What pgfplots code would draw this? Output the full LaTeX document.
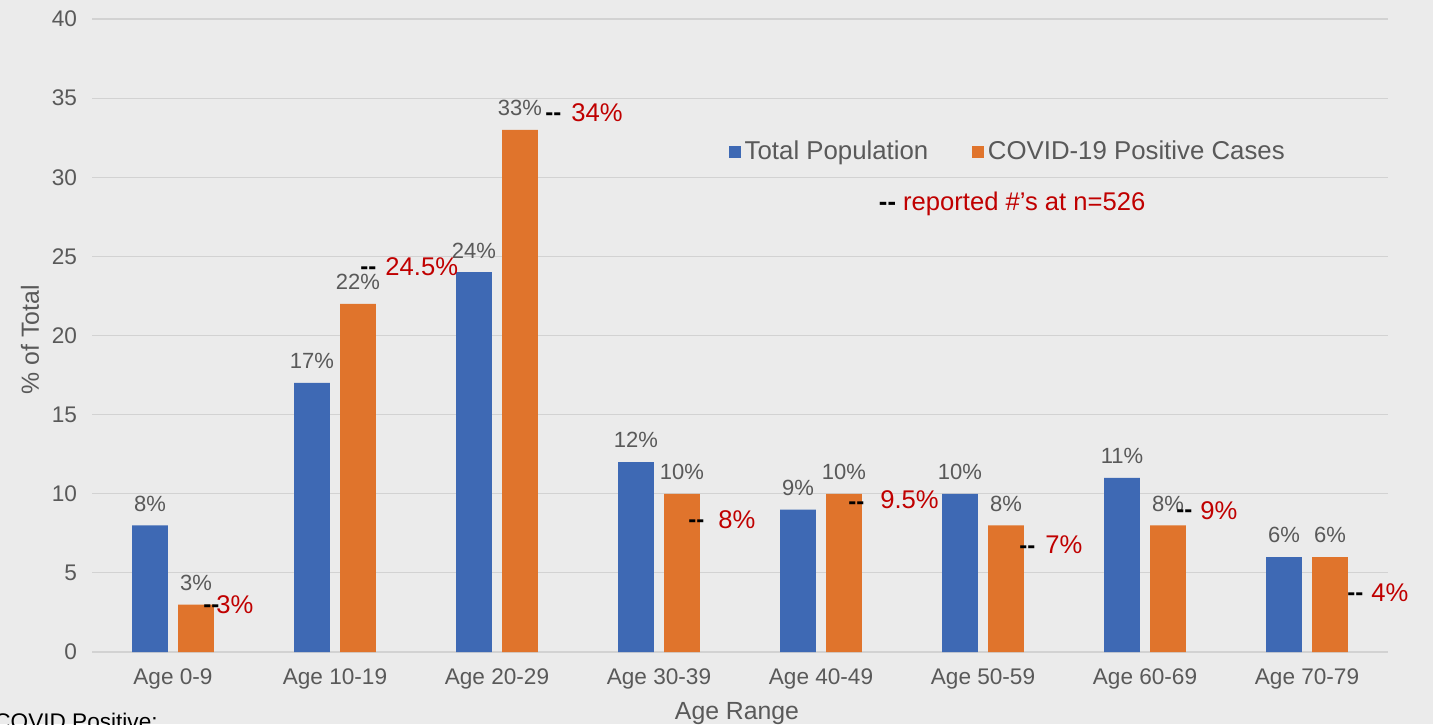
\documentclass[border=0pt]{standalone}
\usepackage{pgfplots}
\pgfplotsset{compat=1.18}
\usepackage{fontspec}
\setmainfont{Liberation Sans}
\definecolor{bg}{HTML}{EBEBEB}
\definecolor{gridc}{HTML}{D2D2D2}
\definecolor{tp}{HTML}{3E69B4}
\definecolor{cv}{HTML}{E0742C}
\definecolor{txt}{HTML}{595959}
\definecolor{rd}{HTML}{C00000}
\begin{document}
\begin{tikzpicture}
\clip (-46pt,-36pt) rectangle (670.5pt,326pt);
\fill[bg] (-46pt,-36pt) rectangle (670.5pt,326pt);
\begin{axis}[
  at={(0pt,0pt)}, anchor=south west,
  scale only axis, width=648pt, height=316.5pt,
  xmin=-0.5, xmax=7.5, ymin=0, ymax=40,
  ytick={0,5,...,40},
  xtick={0,...,7},
  xticklabels={Age 0-9,Age 10-19,Age 20-29,Age 30-39,Age 40-49,Age 50-59,Age 60-69,Age 70-79},
  ymajorgrids, grid style={gridc, line width=0.6pt},
  axis line style={draw=none},
  major tick style={draw=none},
  /pgf/number format/assume math mode=true,
  tick label style={font=\fontsize{11.3}{13}\selectfont, text=txt},
  xticklabel style={yshift=-5pt},
  yticklabel style={xshift=-4pt},
  xlabel={Age Range}, ylabel={\% of Total},
  label style={font=\fontsize{12.4}{14}\selectfont, text=txt},
  xlabel style={at={(axis description cs:0.4977,-0.0975)}, anchor=center},
  ylabel style={at={(axis description cs:-0.0478,0.493)}, anchor=center, rotate=0},
  legend style={at={(axis cs:5.16,31.6)}, anchor=center, draw=none, fill=none,
    legend columns=2, font=\fontsize{12.9}{15}\selectfont, text=txt,
    /tikz/every even column/.append style={column sep=20pt}},
  legend image code/.code={\fill[#1] (0pt,-2.9pt) rectangle (5.8pt,2.9pt);},
]
\addplot[ybar, bar width=0.22, bar shift=0pt, fill=tp, draw=none,
  nodes near coords={\pgfmathprintnumber{\pgfplotspointmeta}\%},
  every node near coord/.append style={anchor=south, yshift=3.5pt, font=\fontsize{11}{13}\selectfont, text=txt}]
  coordinates {(-0.142,8) (0.858,17) (1.858,24) (2.858,12) (3.858,9) (4.858,10) (5.858,11) (6.858,6)};
\addlegendentry{Total Population}
\addplot[ybar, bar width=0.22, bar shift=0pt, fill=cv, draw=none,
  nodes near coords={\pgfmathprintnumber{\pgfplotspointmeta}\%},
  every node near coord/.append style={anchor=south, yshift=3.5pt, font=\fontsize{11}{13}\selectfont, text=txt}]
  coordinates {(0.142,3) (1.142,22) (2.142,33) (3.142,10) (4.142,10) (5.142,8) (6.142,8) (7.142,6)};
\addlegendentry{COVID-19 Positive Cases}
% dashes of reported values
\addplot[only marks, mark=none, forget plot,
  nodes near coords={\textbf{-{}-}},
  every node near coord/.append style={anchor=base west, inner sep=0pt, yshift=-3.2pt, font=\fontsize{12}{14}\selectfont, text=black}]
  coordinates {(0.185,2.91) (1.154,24.27) (2.296,34.0) (3.179,8.28) (4.167,9.42) (5.222,6.63) (6.191,8.91) (7.247,3.67)};
% reported values
\addplot[only marks, mark=none, forget plot, point meta=explicit symbolic,
  nodes near coords={\pgfplotspointmeta\%},
  every node near coord/.append style={anchor=west, inner sep=0pt, font=\fontsize{12.8}{15}\selectfont, text=rd}]
  table[meta=lab] {
x y lab
0.265 2.97 3
1.309 24.33 24.5
2.457 34.06 34
3.364 8.34 8
4.364 9.6 9.5
5.383 6.76 7
6.340 8.91 9
7.395 3.73 4
};
\node[anchor=center, font=\fontsize{12.8}{15}\selectfont] at (axis cs:5.18,28.3) {{\color{black}\textbf{-{}-}} {\color{rd}reported \#'s at n=526}};
\end{axis}
\node[anchor=north west, inner sep=0pt, font=\fontsize{11.3}{13}\selectfont] at (-49pt,-30.5pt) {COVID Positive:};
\end{tikzpicture}
\end{document}
